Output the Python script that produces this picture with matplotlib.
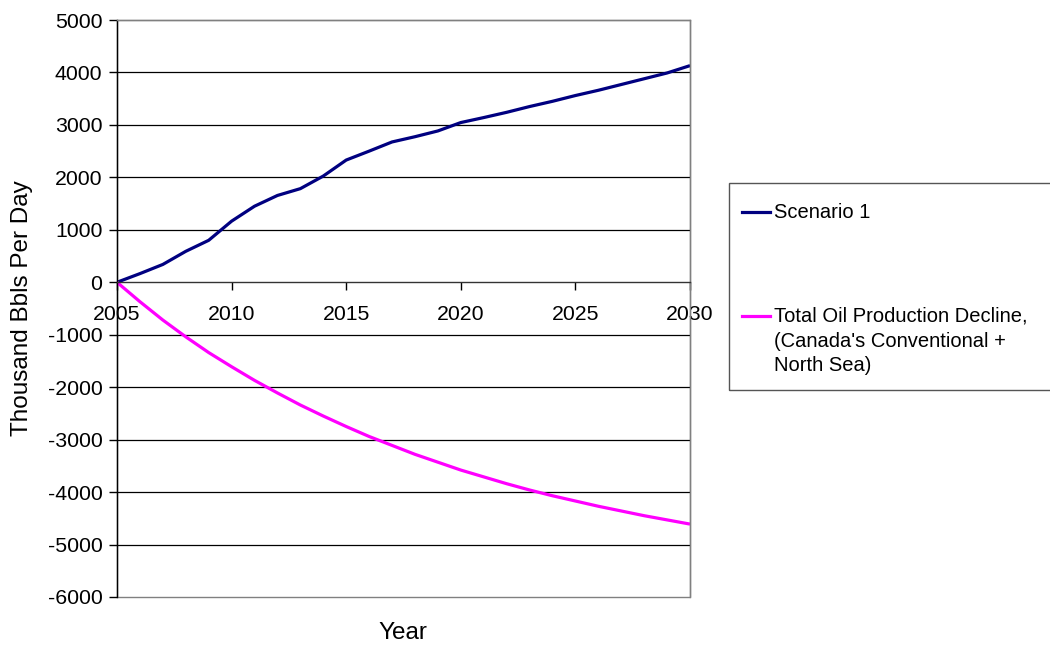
import matplotlib
matplotlib.use("Agg")
import matplotlib.pyplot as plt
from matplotlib.patches import Rectangle
from matplotlib.lines import Line2D

plt.rcParams['font.family'] = ['Liberation Sans', 'DejaVu Sans']

years = list(range(2005, 2031))
scenario1 = [0, 165, 340, 590, 800, 1165, 1450, 1655, 1785, 2025, 2330, 2500, 2675,
             2775, 2885, 3045, 3140, 3240, 3350, 3450, 3560, 3660, 3770, 3880, 3990, 4130]
decline = [0, -370, -720, -1040, -1340, -1610, -1870, -2110, -2340, -2550, -2750, -2940,
           -3110, -3280, -3430, -3580, -3710, -3840, -3960, -4070, -4170, -4270, -4360,
           -4450, -4530, -4610]
x_ticks = [2005, 2010, 2015, 2020, 2025, 2030]
y_ticks = list(range(-6000, 5001, 1000))
label1 = "Scenario 1"
label2 = "Total Oil Production Decline,\n(Canada's Conventional +\nNorth Sea)"
color1 = '#000080'
color2 = '#FF00FF'

W, H = 1050, 646
fig = plt.figure(figsize=(W / 100, H / 100), dpi=100)
ax = fig.add_axes([117 / W, 1 - 597 / H, (690 - 117) / W, (597 - 20) / H])

ax.plot(years, scenario1, color=color1, lw=2.3, solid_capstyle='butt', solid_joinstyle='round')
ax.plot(years, decline, color=color2, lw=2.3, solid_capstyle='butt', solid_joinstyle='round')

ax.set_xlim(2005, 2030)
ax.set_ylim(-6000, 5000)
ax.set_xticks(x_ticks)
ax.set_yticks(y_ticks)
ax.set_yticklabels([str(v) for v in y_ticks])
ax.set_xticklabels([str(v) for v in x_ticks])

for v in y_ticks:
    if v not in (0, -6000, 5000):
        ax.axhline(v, color='black', lw=0.9, zorder=0.5)

for s in ['top', 'right']:
    ax.spines[s].set_color('#808080')
    ax.spines[s].set_linewidth(1.0)
ax.spines['left'].set_color('black')
ax.spines['left'].set_linewidth(1.0)
ax.spines['bottom'].set_position(('data', 0))
ax.spines['bottom'].set_color('#333333')
ax.spines['bottom'].set_linewidth(1.0)
ax.add_patch(Rectangle((0, 0), 1, 1, transform=ax.transAxes, fill=False,
                       edgecolor='#808080', lw=1.0, zorder=0.4, clip_on=False))

ax.tick_params(axis='both', labelsize=15.3, colors='black', length=6, width=1.0)
ax.tick_params(axis='x', direction='out', pad=10.5)
ax.tick_params(axis='y', direction='out', pad=4.5)

ax.set_ylabel('Thousand Bbls Per Day', fontsize=17.5, va='center')
ax.yaxis.set_label_coords(-(117 - 22) / (690 - 117), 0.5)
ax.set_xlabel('Year', fontsize=17.5, va='center')
ax.xaxis.set_label_coords((403 - 117) / (690 - 117), -(633 - 597) / (597 - 20))

# legend (manual layout)
fig.patches.append(Rectangle((729 / W, 1 - 390 / H), (1060 - 729) / W, (390 - 183) / H,
                             transform=fig.transFigure, fill=False, edgecolor='#555555',
                             lw=1.0, clip_on=False))
for yy, col, lab in [(212, color1, label1), (316, color2, label2)]:
    fig.lines.append(Line2D([742 / W, 770 / W], [1 - yy / H, 1 - yy / H],
                            transform=fig.transFigure, color=col, lw=2.3))
    fig.text(774 / W, 1 - (yy - 9) / H, lab, fontsize=14.5, va='top', ha='left',
             linespacing=1.38)

fig.savefig('out.png', dpi=100)
